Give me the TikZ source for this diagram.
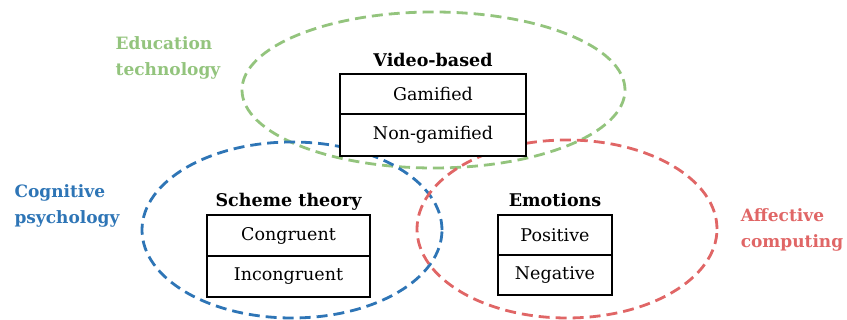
\documentclass[tikz,border=0pt]{standalone}
\usepackage{fontspec}
\setmainfont{DejaVu Serif}
\usepackage{xcolor}
\usetikzlibrary{shapes.geometric, positioning}

\definecolor{edugreen}{HTML}{93C47D}
\definecolor{cogblue}{HTML}{2E75B6}
\definecolor{affred}{HTML}{E06666}

\begin{document}
\begin{tikzpicture}[x=1pt, y=1pt,
    field/.style={ellipse, draw, dashed, line width=2.8pt, dash pattern=on 11pt off 6pt, inner sep=0pt},
    cell/.style={rectangle, draw, fill=white, line width=1.4pt, inner sep=0pt, outer sep=0pt, font=\fontsize{17.5}{20}\selectfont},
    heading/.style={font=\bfseries\fontsize{17.5}{20}\selectfont, inner sep=0pt},
    area/.style={font=\bfseries\fontsize{17}{26}\selectfont, align=left, inner sep=0pt}]

    \useasboundingbox (0,0) rectangle (847,320);

    % the three fields
    \node[field, draw=edugreen, minimum width=383pt, minimum height=156pt] (edu) at (433.5,230) {};
    \node[field, draw=cogblue, minimum width=300pt, minimum height=176pt] (cog) at (292,90) {};
    \node[field, draw=affred, minimum width=300pt, minimum height=178pt] (aff) at (567,91) {};

    % field names
    \node[area, text=edugreen] (edulbl) at (168,262) {Education\\technology};
    \node[area, text=cogblue] (coglbl) at (67,114) {Cognitive\\psychology};
    \node[area, text=affred] (afflbl) at (792,90) {Affective\\computing};

    % video-based
    \node[cell, minimum width=186pt, minimum height=40pt] (gam) at (433,226) {Gamified};
    \node[cell, minimum width=186pt, minimum height=42pt, below=0pt of gam] (nongam) {Non-gamified};
    \node[heading, above=7pt of gam, anchor=base] (video) {Video-based};

    % scheme theory
    \node[cell, minimum width=163pt, minimum height=41pt] (cong) at (288.5,84.5) {Congruent};
    \node[cell, minimum width=163pt, minimum height=41pt, below=0pt of cong] (incong) {Incongruent};
    \node[heading, above=8.5pt of cong, anchor=base] (scheme) {Scheme theory};

    % emotions
    \node[cell, minimum width=114pt, minimum height=40pt] (pos) at (555,85) {Positive};
    \node[cell, minimum width=114pt, minimum height=40pt, below=0pt of pos] (neg) {Negative};
    \node[heading, above=8.5pt of pos, anchor=base] (emo) {Emotions};

\end{tikzpicture}
\end{document}
